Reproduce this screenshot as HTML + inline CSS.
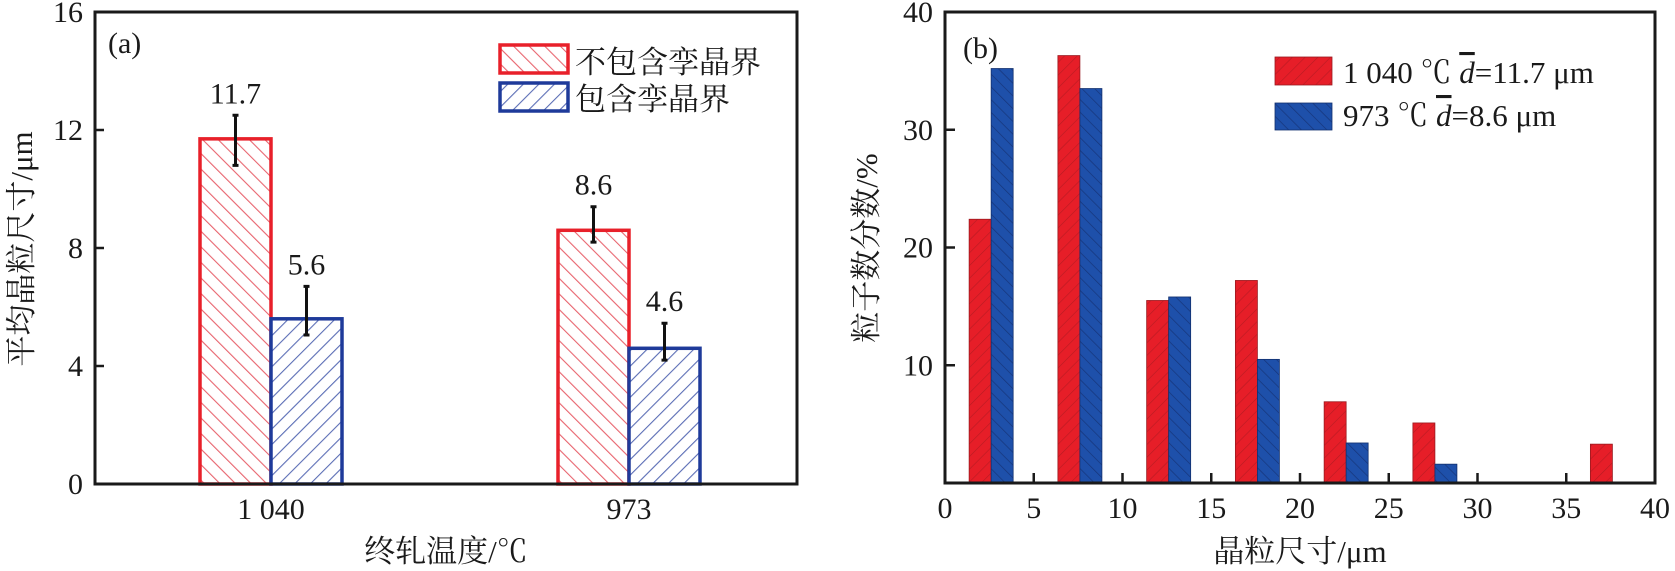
<!DOCTYPE html>
<html><head><meta charset="utf-8"><style>
html,body{margin:0;padding:0;background:#fff;}
svg{display:block;}
text{font-family:"Liberation Serif","Times New Roman","Noto Serif CJK SC",serif;fill:#1a1a1a;}
</style></head><body>
<svg id="fig" width="1675" height="571" viewBox="0 0 1675 571" xmlns="http://www.w3.org/2000/svg">
<defs>
<pattern id="hatchRedA" patternUnits="userSpaceOnUse" width="11" height="11" patternTransform="rotate(-45)">
<rect width="11" height="11" fill="#fff"/><line x1="0" y1="0" x2="0" y2="11" stroke="#e8646e" stroke-width="2.2"/></pattern>
<pattern id="hatchBlueA" patternUnits="userSpaceOnUse" width="11" height="11" patternTransform="rotate(45)">
<rect width="11" height="11" fill="#fff"/><line x1="0" y1="0" x2="0" y2="11" stroke="#5a6db5" stroke-width="2.2"/></pattern>
<pattern id="hatchRedB" patternUnits="userSpaceOnUse" width="9" height="9" patternTransform="rotate(45)">
<rect width="9" height="9" fill="#e61e28"/><line x1="0" y1="0" x2="0" y2="9" stroke="#b81a22" stroke-width="1.2"/></pattern>
<pattern id="hatchBlueB" patternUnits="userSpaceOnUse" width="9" height="9" patternTransform="rotate(-45)">
<rect width="9" height="9" fill="#1e50aa"/><line x1="0" y1="0" x2="0" y2="9" stroke="#16357a" stroke-width="1.4"/></pattern>
</defs>
<g id="panelA"></g>
<g id="panelB"></g>
</svg>
<script>
// Panel (a) data
const aCategories = ["1 040", "973"];
const aExcl = [11.7, 8.6];
const aIncl = [5.6, 4.6];
const aExclErrTop = [12.5, 9.4];
const aExclErrBot = [10.8, 8.2];
const aInclErrTop = [6.7, 5.45];
const aInclErrBot = [5.05, 4.2];
const aYTicks = [0, 4, 8, 12, 16];
// Panel (b) data
const bBins = [2.5, 7.5, 12.5, 17.5, 22.5, 27.5, 32.5, 37.5];
const b1040 = [22.4, 36.3, 15.5, 17.2, 6.9, 5.1, 0, 3.3];
const b973 = [35.2, 33.5, 15.8, 10.5, 3.4, 1.6, 0, 0];
const bXTicks = [0, 5, 10, 15, 20, 25, 30, 35, 40];
const bYTicks = [10, 20, 30, 40];

const NS = "http://www.w3.org/2000/svg";
function mk(tag, attrs, parent, txt) {
  const e = document.createElementNS(NS, tag);
  for (const k in attrs) e.setAttribute(k, attrs[k]);
  if (txt !== undefined) e.textContent = txt;
  parent.appendChild(e);
  return e;
}

// ---------- Panel A ----------
const A = document.getElementById('panelA');
const aL = 95, aR = 797, aT = 12, aB = 484;
const ayScale = v => aB - v * (aB - aT) / 16;
const aCenters = [271, 629];
const aBarW = 71;

aYTicks.forEach(t => {
  const y = ayScale(t);
  const tk = mk('line', {x1: aL, x2: aL + 9, y1: y, y2: y, stroke: '#1a1a1a', 'stroke-width': 2.5}, A);
  
  
  const lb = mk('text', {x: aL - 12, y: y + 10, 'font-size': 30, 'text-anchor': 'end'}, A, String(t));
  
  
});

aCategories.forEach((c, i) => {
  const cx = aCenters[i];
  const r = mk('rect', {x: cx - aBarW, y: ayScale(aExcl[i]), width: aBarW, height: aB - ayScale(aExcl[i]), fill: 'url(#hatchRedA)', stroke: '#e8202a', 'stroke-width': 3.5}, A);
  
  
  const b = mk('rect', {x: cx, y: ayScale(aIncl[i]), width: aBarW, height: aB - ayScale(aIncl[i]), fill: 'url(#hatchBlueA)', stroke: '#1e3a9a', 'stroke-width': 3.5}, A);
  
  
  [[cx - aBarW / 2, aExclErrTop[i], aExclErrBot[i]], [cx + aBarW / 2, aInclErrTop[i], aInclErrBot[i]]].forEach(([ex, t, bt]) => {
    const e = mk('path', {d: `M${ex},${ayScale(t)}V${ayScale(bt)}M${ex-3},${ayScale(t)}H${ex+3}M${ex-3},${ayScale(bt)}H${ex+3}`, stroke: '#111', 'stroke-width': 3, fill: 'none'}, A);
    
    
  });
  const v1 = mk('text', {x: cx - aBarW / 2, y: ayScale(aExclErrTop[i]) - 12, 'font-size': 30, 'text-anchor': 'middle'}, A, aExcl[i].toFixed(1));
  
  
  const v2 = mk('text', {x: cx + aBarW / 2, y: ayScale(aInclErrTop[i]) - 12, 'font-size': 30, 'text-anchor': 'middle'}, A, aIncl[i].toFixed(1));
  
  
  const xl = mk('text', {x: cx, y: 519, 'font-size': 30, 'text-anchor': 'middle'}, A, c);
  
  
});

const aFrame = mk('rect', {x: aL, y: aT, width: aR - aL, height: aB - aT, fill: 'none', stroke: '#1a1a1a', 'stroke-width': 3}, A);


const aLab = mk('text', {x: 108, y: 53, 'font-size': 30}, A, '(a)');


const aYT = mk('text', {x: 0, y: 0, 'font-size': 31, 'text-anchor': 'middle', transform: 'translate(32,249) rotate(-90)'}, A, '平均晶粒尺寸/μm');


const aXT = mk('text', {x: 446, y: 562, 'font-size': 31, 'text-anchor': 'middle'}, A, '终轧温度/℃');


// legend a
const lgA1 = mk('rect', {x: 500, y: 45, width: 68, height: 28, fill: 'url(#hatchRedA)', stroke: '#e8202a', 'stroke-width': 3.5}, A);


const lgA1t = mk('text', {x: 575, y: 73, 'font-size': 31}, A, '不包含孪晶界');


const lgA2 = mk('rect', {x: 500, y: 83, width: 68, height: 28, fill: 'url(#hatchBlueA)', stroke: '#1e3a9a', 'stroke-width': 3.5}, A);


const lgA2t = mk('text', {x: 575, y: 110, 'font-size': 31}, A, '包含孪晶界');



// ---------- Panel B ----------
const B = document.getElementById('panelB');
const bL = 945, bR = 1655, bT = 12, bB = 483;
const bx = v => bL + v * (bR - bL) / 40;
const by = v => bB - v * (bB - bT) / 40;
const bw = 1.24;

bBins.forEach((c, i) => {
  if (b1040[i] > 0) {
    const r = mk('rect', {x: bx(c - 1.14), y: by(b1040[i]), width: bx(bw) - bx(0), height: bB - by(b1040[i]), fill: 'url(#hatchRedB)', stroke: '#9a1a20', 'stroke-width': 0.8}, B);
    
    
  }
  if (b973[i] > 0) {
    const r = mk('rect', {x: bx(c - 1.14 + bw), y: by(b973[i]), width: bx(bw) - bx(0), height: bB - by(b973[i]), fill: 'url(#hatchBlueB)', stroke: '#12306e', 'stroke-width': 0.8}, B);
    
    
  }
});

bXTicks.forEach(t => {
  const x = bx(t);
  const tk = mk('line', {x1: x, x2: x, y1: bB, y2: bB - 10, stroke: '#1a1a1a', 'stroke-width': 2.5}, B);
  
  
  const lb = mk('text', {x: x, y: 518, 'font-size': 30, 'text-anchor': 'middle'}, B, String(t));
  
  
});
bYTicks.forEach(t => {
  const y = by(t);
  const tk = mk('line', {x1: bL, x2: bL + 10, y1: y, y2: y, stroke: '#1a1a1a', 'stroke-width': 2.5}, B);
  
  
  const lb = mk('text', {x: bL - 12, y: y + 10, 'font-size': 30, 'text-anchor': 'end'}, B, String(t));
  
  
});
const bFrame = mk('rect', {x: bL, y: bT, width: bR - bL, height: bB - bT, fill: 'none', stroke: '#1a1a1a', 'stroke-width': 3}, B);


const bLab = mk('text', {x: 963, y: 58, 'font-size': 30}, B, '(b)');


const bYT = mk('text', {x: 0, y: 0, 'font-size': 31, 'text-anchor': 'middle', transform: 'translate(877,248) rotate(-90)'}, B, '粒子数分数/%');


const bXT = mk('text', {x: 1300, y: 562, 'font-size': 31, 'text-anchor': 'middle'}, B, '晶粒尺寸/μm');


// legend b
const lgB1 = mk('rect', {x: 1275, y: 57, width: 57, height: 28, fill: 'url(#hatchRedB)', stroke: '#9a1a20', 'stroke-width': 0.8}, B);


const lgB1t = mk('text', {x: 1343, y: 83, 'font-size': 31}, B);


lgB1t.innerHTML = '1 040 ℃ <tspan font-style="italic" text-decoration="overline">d</tspan>=11.7 μm';
const lgB2 = mk('rect', {x: 1275, y: 103, width: 57, height: 27, fill: 'url(#hatchBlueB)', stroke: '#12306e', 'stroke-width': 0.8}, B);


const lgB2t = mk('text', {x: 1343, y: 126, 'font-size': 31}, B);


lgB2t.innerHTML = '973 ℃ <tspan font-style="italic" text-decoration="overline">d</tspan>=8.6 μm';
</script>
</body></html>
